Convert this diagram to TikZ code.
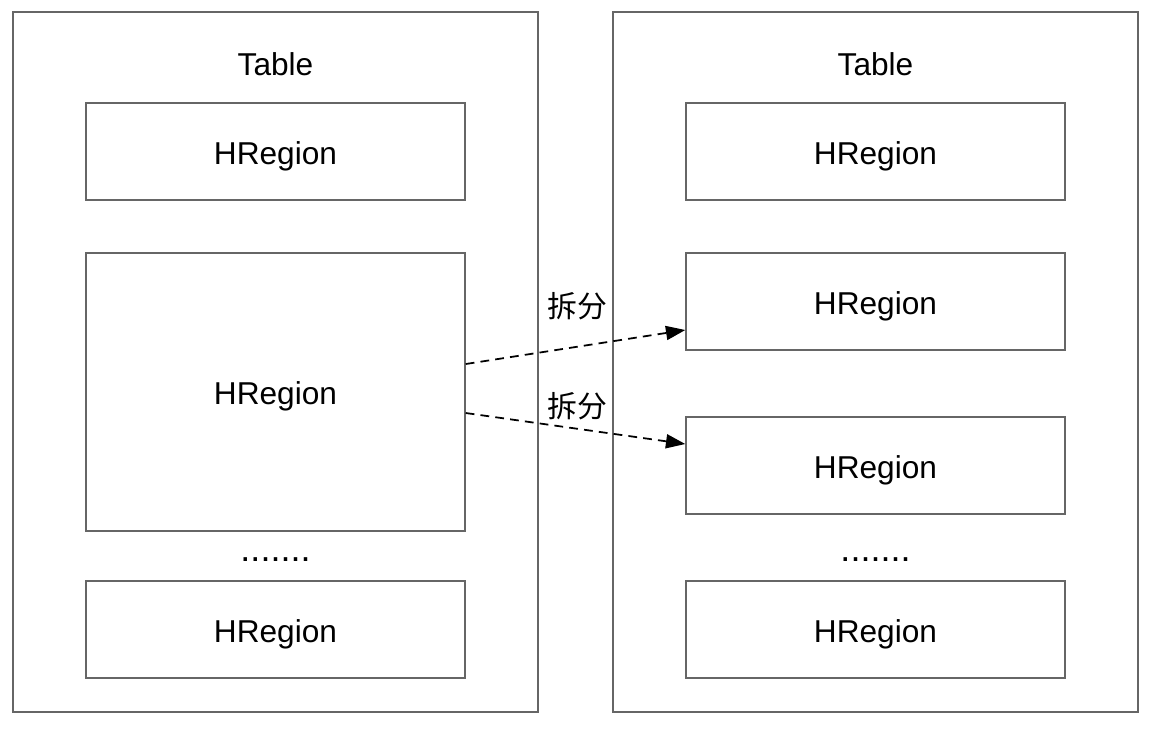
\documentclass[tikz,border=0pt]{standalone}
\usepackage{fontspec}
\setmainfont{Liberation Sans}
\newfontfamily\cjk{Noto Sans CJK SC}
\usepackage{xcolor}
\usetikzlibrary{arrows.meta}
\definecolor{edgegray}{HTML}{666666}

\tikzset{
  label18/.style={font=\fontsize{18}{21}\selectfont, text height=14.4pt, text depth=0pt},
  tablebox/.style={draw=edgegray, line width=0.85pt, minimum width=10.5cm, minimum height=14cm, inner sep=0pt},
  regionbox/.style={draw=edgegray, line width=0.85pt, minimum width=7.58cm, minimum height=1.94cm, inner sep=0pt, label18},
  dotsnode/.style={font=\fontsize{20.5}{22}\selectfont, anchor=base, inner sep=0pt},
  splitarrow/.style={-{Triangle[length=11pt,width=8pt]}, line width=1pt, dash pattern=on 5pt off 3.5pt},
}

\begin{document}
\begin{tikzpicture}[x=0.02cm, y=-0.02cm]
\useasboundingbox (0,0) rectangle (1152,728);
% the two tables
\node[tablebox] (lt) at (275.5,362) {};
\node[tablebox] (rt) at (875.5,362) {};
\node[label18] (ltitle) at (275.5,63) {Table};
\node[label18] (rtitle) at (875.5,63) {Table};
% left regions
\node[regionbox] (l1) at (275.5,151.5) {HRegion};
\node[regionbox, minimum height=5.56cm] (l2) at (275.5,392) {HRegion};
\node[dotsnode] (ldots) at (275.5,561) {.......};
\node[regionbox] (l3) at (275.5,629.5) {HRegion};
% right regions
\node[regionbox] (r1) at (875.5,151.5) {HRegion};
\node[regionbox] (r2) at (875.5,301.5) {HRegion};
\node[regionbox] (r3) at (875.5,465.5) {HRegion};
\node[dotsnode] (rdots) at (875.5,561) {.......};
\node[regionbox] (r4) at (875.5,629.5) {HRegion};
% split arrows
\draw[splitarrow] ([yshift=0.56cm]l2.east) -- ([yshift=-0.57cm]r2.west);
\draw[splitarrow] ([yshift=-0.42cm]l2.east) -- ([yshift=0.43cm]r3.west);
\node[font=\cjk\fontsize{17}{20}\selectfont] (split1) at (577,306) {拆分};
\node[font=\cjk\fontsize{17}{20}\selectfont] (split2) at (577,406) {拆分};
\end{tikzpicture}
\end{document}
